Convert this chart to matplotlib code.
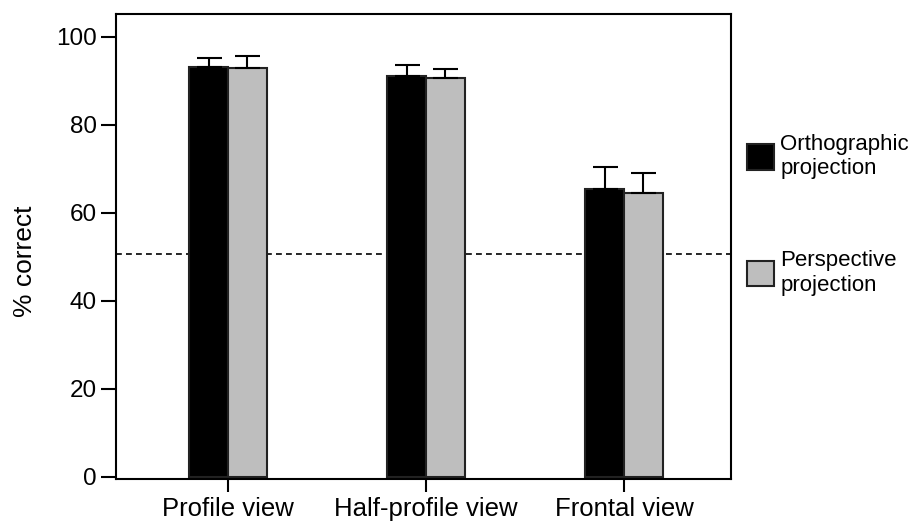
import matplotlib
matplotlib.use("Agg")
import matplotlib.pyplot as plt
import numpy as np
from matplotlib.patches import Patch

plt.rcParams["font.family"] = ["Liberation Sans", "DejaVu Sans"]

views = ["Profile view", "Half-profile view", "Frontal view"]
series_names = ["Orthographic\nprojection", "Perspective\nprojection"]
ortho_vals = [93.1, 91.0, 65.5]
ortho_err = [2.1, 2.7, 5.0]
persp_vals = [92.9, 90.7, 64.4]
persp_err = [2.8, 2.0, 4.7]
chance = 50.6
yticks = [0, 20, 40, 60, 80, 100]

fig = plt.figure(figsize=(9.14, 5.21), dpi=100)
ax = fig.add_axes([116 / 914, 42 / 521, 615 / 914, 465 / 521])

x = np.arange(len(views))
w = 0.195
ax.axhline(chance, color="black", lw=1.2, ls=(0, (3.5, 2.5)), zorder=1)
ax.bar(x - w / 2, ortho_vals, w, color="black", edgecolor="#222222", lw=1.5, zorder=2)
ax.bar(x + w / 2, persp_vals, w, color="#bebebe", edgecolor="#222222", lw=1.5, zorder=2)
ax.errorbar(x - w / 2, ortho_vals, yerr=[np.zeros(3), ortho_err], fmt="none",
            ecolor="black", elinewidth=1.5, capsize=9, capthick=1.5, zorder=3)
ax.errorbar(x + w / 2, persp_vals, yerr=[np.zeros(3), persp_err], fmt="none",
            ecolor="black", elinewidth=1.5, capsize=9, capthick=1.5, zorder=3)

ax.set_xlim(-0.565, 2.54)
ax.set_ylim(-0.5, 105.2)
ax.set_xticks(x)
ax.set_xticklabels(views, fontsize=18.5)
ax.set_yticks(yticks)
ax.set_yticklabels([str(t) for t in yticks], fontsize=17.5)
ax.tick_params(axis="y", length=11, width=1.5, pad=3)
ax.tick_params(axis="x", length=9, width=1.5, pad=4)
for s in ax.spines.values():
    s.set_linewidth(1.5)
ax.set_ylabel("% correct", fontsize=19)
ax.yaxis.set_label_coords(-0.128, 0.469)

handles = [Patch(facecolor="black", edgecolor="#222222", lw=1.5),
           Patch(facecolor="#bebebe", edgecolor="#222222", lw=1.5)]
fig.legend(handles, series_names, loc="upper left", bbox_to_anchor=(747 / 914, 1 - 134 / 521),
           frameon=False, fontsize=16, handlelength=1.2, handleheight=1.4, borderpad=0,
           handletextpad=0.3, labelspacing=3.2, borderaxespad=0)

fig.savefig("out.png", dpi=100)
